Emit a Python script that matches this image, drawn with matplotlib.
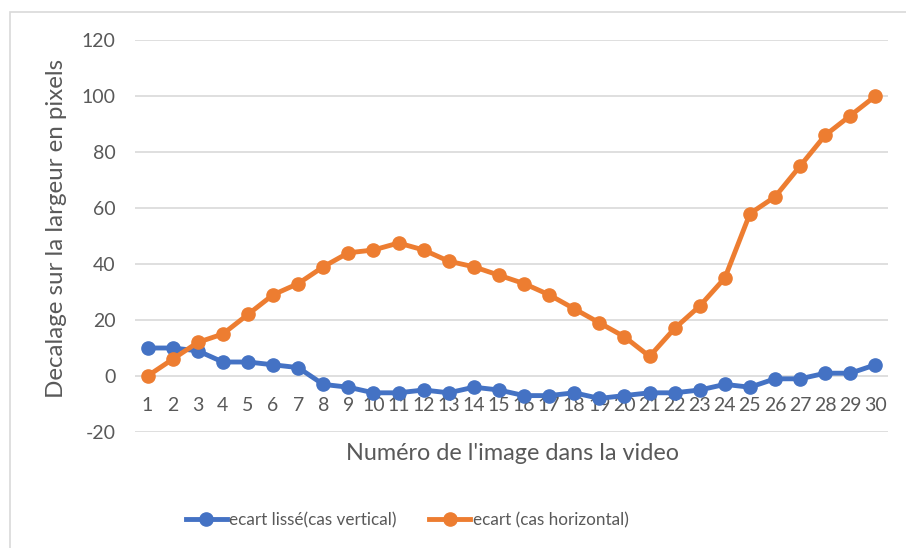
import matplotlib.pyplot as plt
from matplotlib.patches import Rectangle

# valeurs
images = list(range(1, 31))
ecart_vertical = [10, 10, 9, 5, 5, 4, 3, -3, -4, -6, -6, -5, -6, -4, -5,
                  -7, -7, -6, -8, -7, -6, -6, -5, -3, -4, -1, -1, 1, 1, 4]
ecart_horizontal = [0, 6, 12, 15, 22, 29, 33, 39, 44, 45, 47.5, 45, 41, 39, 36,
                    33, 29, 24, 19, 14, 7, 17, 25, 35, 58, 64, 75, 86, 93, 100]
y_ticks = [-20, 0, 20, 40, 60, 80, 100, 120]

plt.rcParams['font.family'] = ['Lato', 'DejaVu Sans']
plt.rcParams['axes.unicode_minus'] = False
grey = '#595959'

W, H = 906, 548
fig = plt.figure(figsize=(W / 100, H / 100), dpi=100)
ax = fig.add_axes([135 / W, 1 - 432 / H, (888 - 135) / W, (432 - 40) / H])

# cadre du graphique
fig.patches.append(Rectangle((10 / W, -0.05), 1.05, 1 - 12 / H + 0.05,
                             transform=fig.transFigure, fill=False,
                             edgecolor='#d9d9d9', linewidth=1.2))

ax.plot(images, ecart_vertical, color='#4472C4', lw=3.5, marker='o', ms=9.5,
        label='ecart lissé(cas vertical)', zorder=3)
ax.plot(images, ecart_horizontal, color='#ED7D31', lw=3.5, marker='o', ms=9.5,
        label='ecart (cas horizontal)', zorder=3)

ax.set_xlim(0.5, 30.5)
ax.set_ylim(-20, 120)
ax.set_yticks(y_ticks)
ax.set_xticks(images)
ax.grid(axis='y', color='#d9d9d9', lw=1.2)
ax.set_axisbelow(True)

for s in ['top', 'right', 'left']:
    ax.spines[s].set_visible(False)
ax.spines['bottom'].set_position(('data', 0))
ax.spines['bottom'].set_visible(False)
ax.tick_params(axis='both', length=0, colors=grey, labelsize=14)
ax.tick_params(axis='x', pad=15)
ax.tick_params(axis='y', pad=14)
for lbl in ax.get_xticklabels():
    lbl.set_zorder(1)

fig.text(512 / W, 1 - 453 / H, "Numéro de l'image dans la video",
         ha='center', va='center', fontsize=16.8, color=grey)
fig.text(57 / W, 1 - 228 / H, 'Decalage sur la largeur en pixels',
         ha='center', va='center', rotation=90, fontsize=17.4, color=grey)

fig.legend(loc='center', bbox_to_anchor=(407 / W, 1 - 520 / H), ncol=2,
           frameon=False, fontsize=12.3, labelcolor=grey, handlelength=2.4,
           columnspacing=1.9, handletextpad=0.15)

fig.savefig('out.png', dpi=100)
